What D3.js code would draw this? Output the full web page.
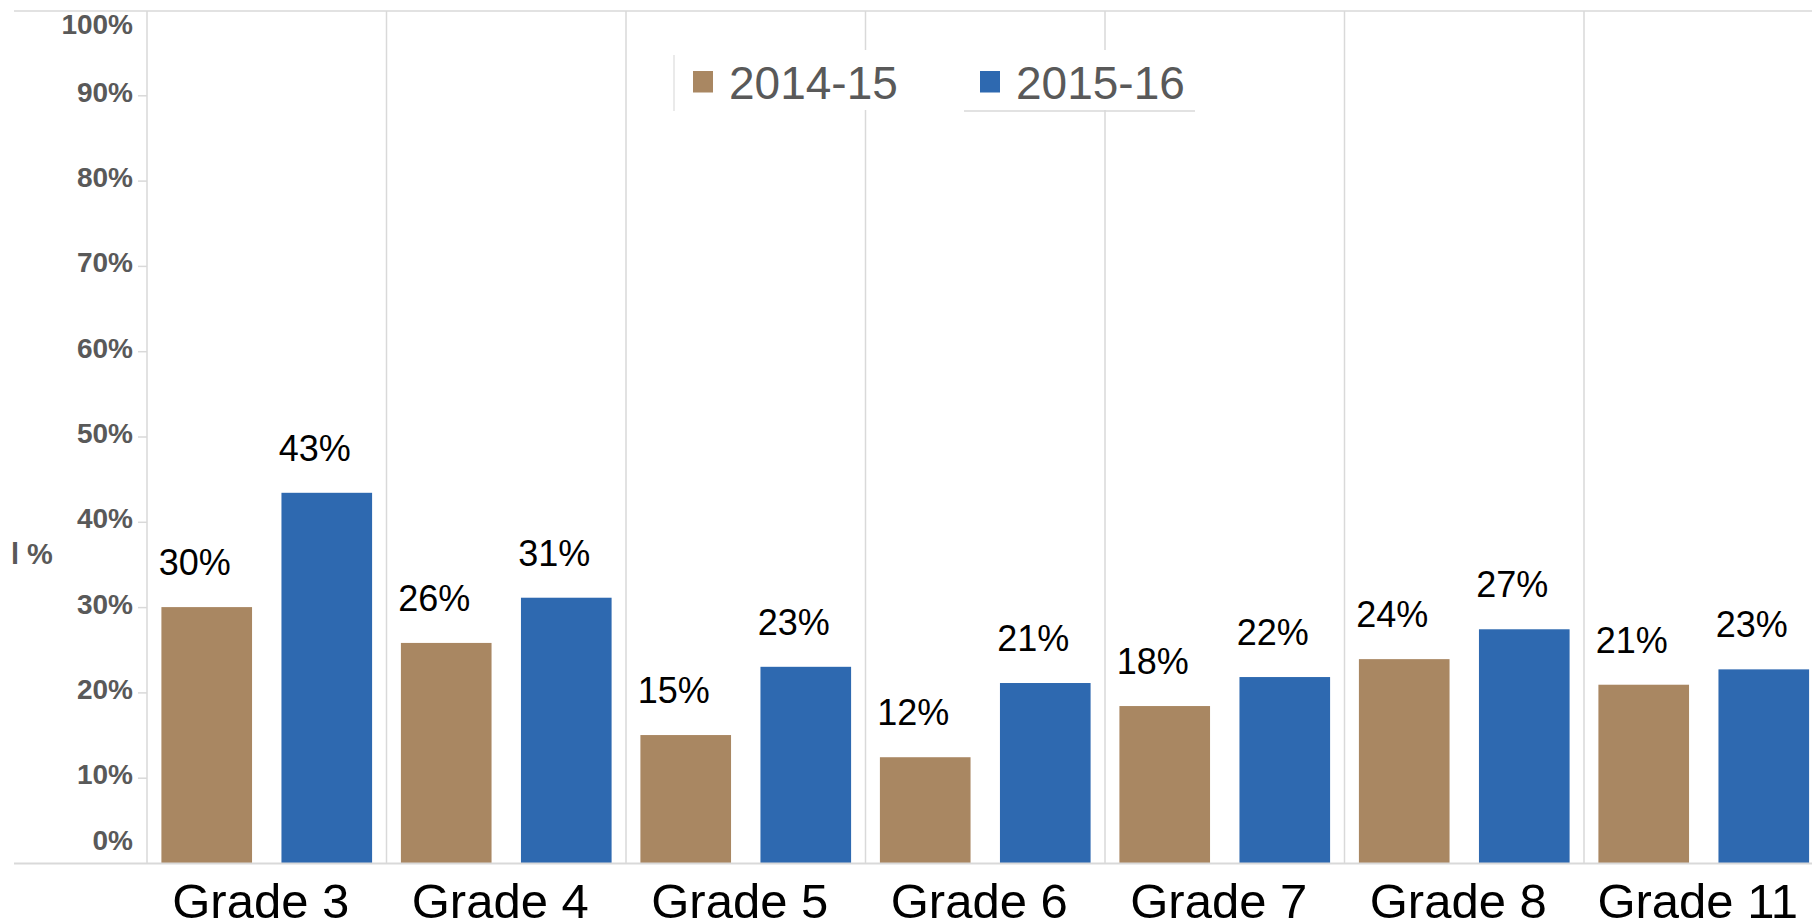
<!DOCTYPE html>
<html>
<head>
<meta charset="utf-8">
<script src="https://cdn.jsdelivr.net/npm/d3@7"></script>
<style>
  body { margin: 0; background: #fff; }
  text { font-family: "Liberation Sans", Arial, sans-serif; }
</style>
</head>
<body>
<div id="myChart"></div>
<script>
// data
var grades = ["Grade 3", "Grade 4", "Grade 5", "Grade 6", "Grade 7", "Grade 8", "Grade 11"];
var years = ["2014-15", "2015-16"];
var values1415 = [30.0, 25.8, 15.0, 12.4, 18.4, 23.9, 20.9];
var values1516 = [43.4, 31.1, 23.0, 21.1, 21.8, 27.4, 22.7];
var yTicks = [0, 10, 20, 30, 40, 50, 60, 70, 80, 90, 100];
var colors = ["#a98762", "#2e69b0"];

var rows = grades.map(function(g, i) {
    return { grade: g, vals: [values1415[i], values1516[i]] };
});

var width = 1812, height = 923;
var gridColor = "#d9d9d9";

var svg = d3.select("#myChart")
    .append("svg")
    .attr("width", width).attr("height", height);

var x0 = d3.scaleBand()
    .domain(grades)
    .range([147, 1823.5])
    .paddingInner(0).paddingOuter(0);

var x1 = d3.scaleBand()
    .domain(years)
    .range([0, x0.bandwidth()])
    .paddingInner(0.245).paddingOuter(0.12);

var y = d3.scaleLinear()
    .domain([0, 100])
    .range([863, 10]);

//frame lines
svg.append("line")
    .attr("x1", 14).attr("x2", width)
    .attr("y1", 11).attr("y2", 11)
    .attr("stroke", gridColor).attr("stroke-width", 1.5);

//vertical separators between grades
svg.append("g")
    .selectAll("line")
    .data(grades)
    .join("line")
    .attr("x1", function(d) { return x0(d); })
    .attr("x2", function(d) { return x0(d); })
    .attr("y1", 11).attr("y2", y(0))
    .attr("stroke", gridColor).attr("stroke-width", 1.5);

//y axis
var yAxis = svg.append("g")
    .attr("transform", "translate(147,0)")
    .call(d3.axisLeft(y)
        .tickValues(yTicks)
        .tickSize(9)
        .tickPadding(5)
        .tickFormat(function(d) { return d + "%"; }));

yAxis.select(".domain").remove();
yAxis.selectAll(".tick line")
    .attr("stroke", gridColor).attr("stroke-width", 1.5)
    .attr("opacity", function(d) { return d == 0 || d == 100 ? 0 : 1; });
yAxis.selectAll(".tick text")
    .attr("fill", "#595959")
    .style("font-size", "28px")
    .style("font-weight", "bold")
    .style("font-family", "'Liberation Sans', Arial, sans-serif")
    .attr("dy", function(d) {
        if (d == 100) return "23.4px";
        if (d == 0) return "-14px";
        return "5.9px";
    });

svg.append("text")
    .attr("x", 11).attr("y", 564)
    .attr("fill", "#595959")
    .style("font-size", "29px")
    .style("font-weight", "bold")
    .text("l %");

//bars
var groups = svg.append("g")
    .selectAll("g")
    .data(rows)
    .join("g")
    .attr("transform", function(d) { return "translate(" + x0(d.grade) + ",0)"; });

groups.selectAll("rect")
    .data(function(d) { return d.vals.map(function(v, i) { return { year: years[i], v: v }; }); })
    .join("rect")
    .attr("x", function(d) { return x1(d.year); })
    .attr("width", x1.bandwidth())
    .attr("y", function(d) { return y(d.v); })
    .attr("height", function(d) { return y(0) - y(d.v); })
    .attr("fill", function(d, i) { return colors[i]; });

groups.selectAll("text.val")
    .data(function(d) { return d.vals.map(function(v, i) { return { year: years[i], v: v }; }); })
    .join("text")
    .attr("class", "val")
    .attr("x", function(d) { return x1(d.year) + x1.bandwidth() / 2 - 12; })
    .attr("y", function(d) { return y(d.v) - 32; })
    .attr("text-anchor", "middle")
    .attr("fill", "#000")
    .style("font-size", "36px")
    .text(function(d) { return Math.round(d.v) + "%"; });

//baseline
svg.append("line")
    .attr("x1", 14).attr("x2", width)
    .attr("y1", y(0) + 0.5).attr("y2", y(0) + 0.5)
    .attr("stroke", gridColor).attr("stroke-width", 2);

//grade labels
svg.append("g")
    .selectAll("text")
    .data(grades)
    .join("text")
    .attr("x", function(d) { return x0(d) + x0.bandwidth() / 2 - 6; })
    .attr("y", 918)
    .attr("text-anchor", "middle")
    .attr("fill", "#000")
    .style("font-size", "49px")
    .text(function(d) { return d; });

//legend
var legend = svg.append("g");

legend.append("rect")
    .attr("x", 674).attr("y", 50)
    .attr("width", 1195 - 674).attr("height", 60)
    .attr("fill", "#fff");

legend.append("line")
    .attr("x1", 674).attr("x2", 674)
    .attr("y1", 55).attr("y2", 111)
    .attr("stroke", "#e3e3e3").attr("stroke-width", 1.5);

legend.append("line")
    .attr("x1", 964).attr("x2", 1195)
    .attr("y1", 111).attr("y2", 111)
    .attr("stroke", gridColor).attr("stroke-width", 1.5);

var legendX = [693, 980];

legend.selectAll("rect.key")
    .data(years)
    .join("rect")
    .attr("class", "key")
    .attr("x", function(d, i) { return legendX[i]; })
    .attr("y", 71)
    .attr("width", 20).attr("height", 21.5)
    .attr("fill", function(d, i) { return colors[i]; });

legend.selectAll("text")
    .data(years)
    .join("text")
    .attr("x", function(d, i) { return legendX[i] + 36; })
    .attr("y", 99)
    .attr("fill", "#595959")
    .style("font-size", "46px")
    .text(function(d) { return d; });
</script>
</body>
</html>
